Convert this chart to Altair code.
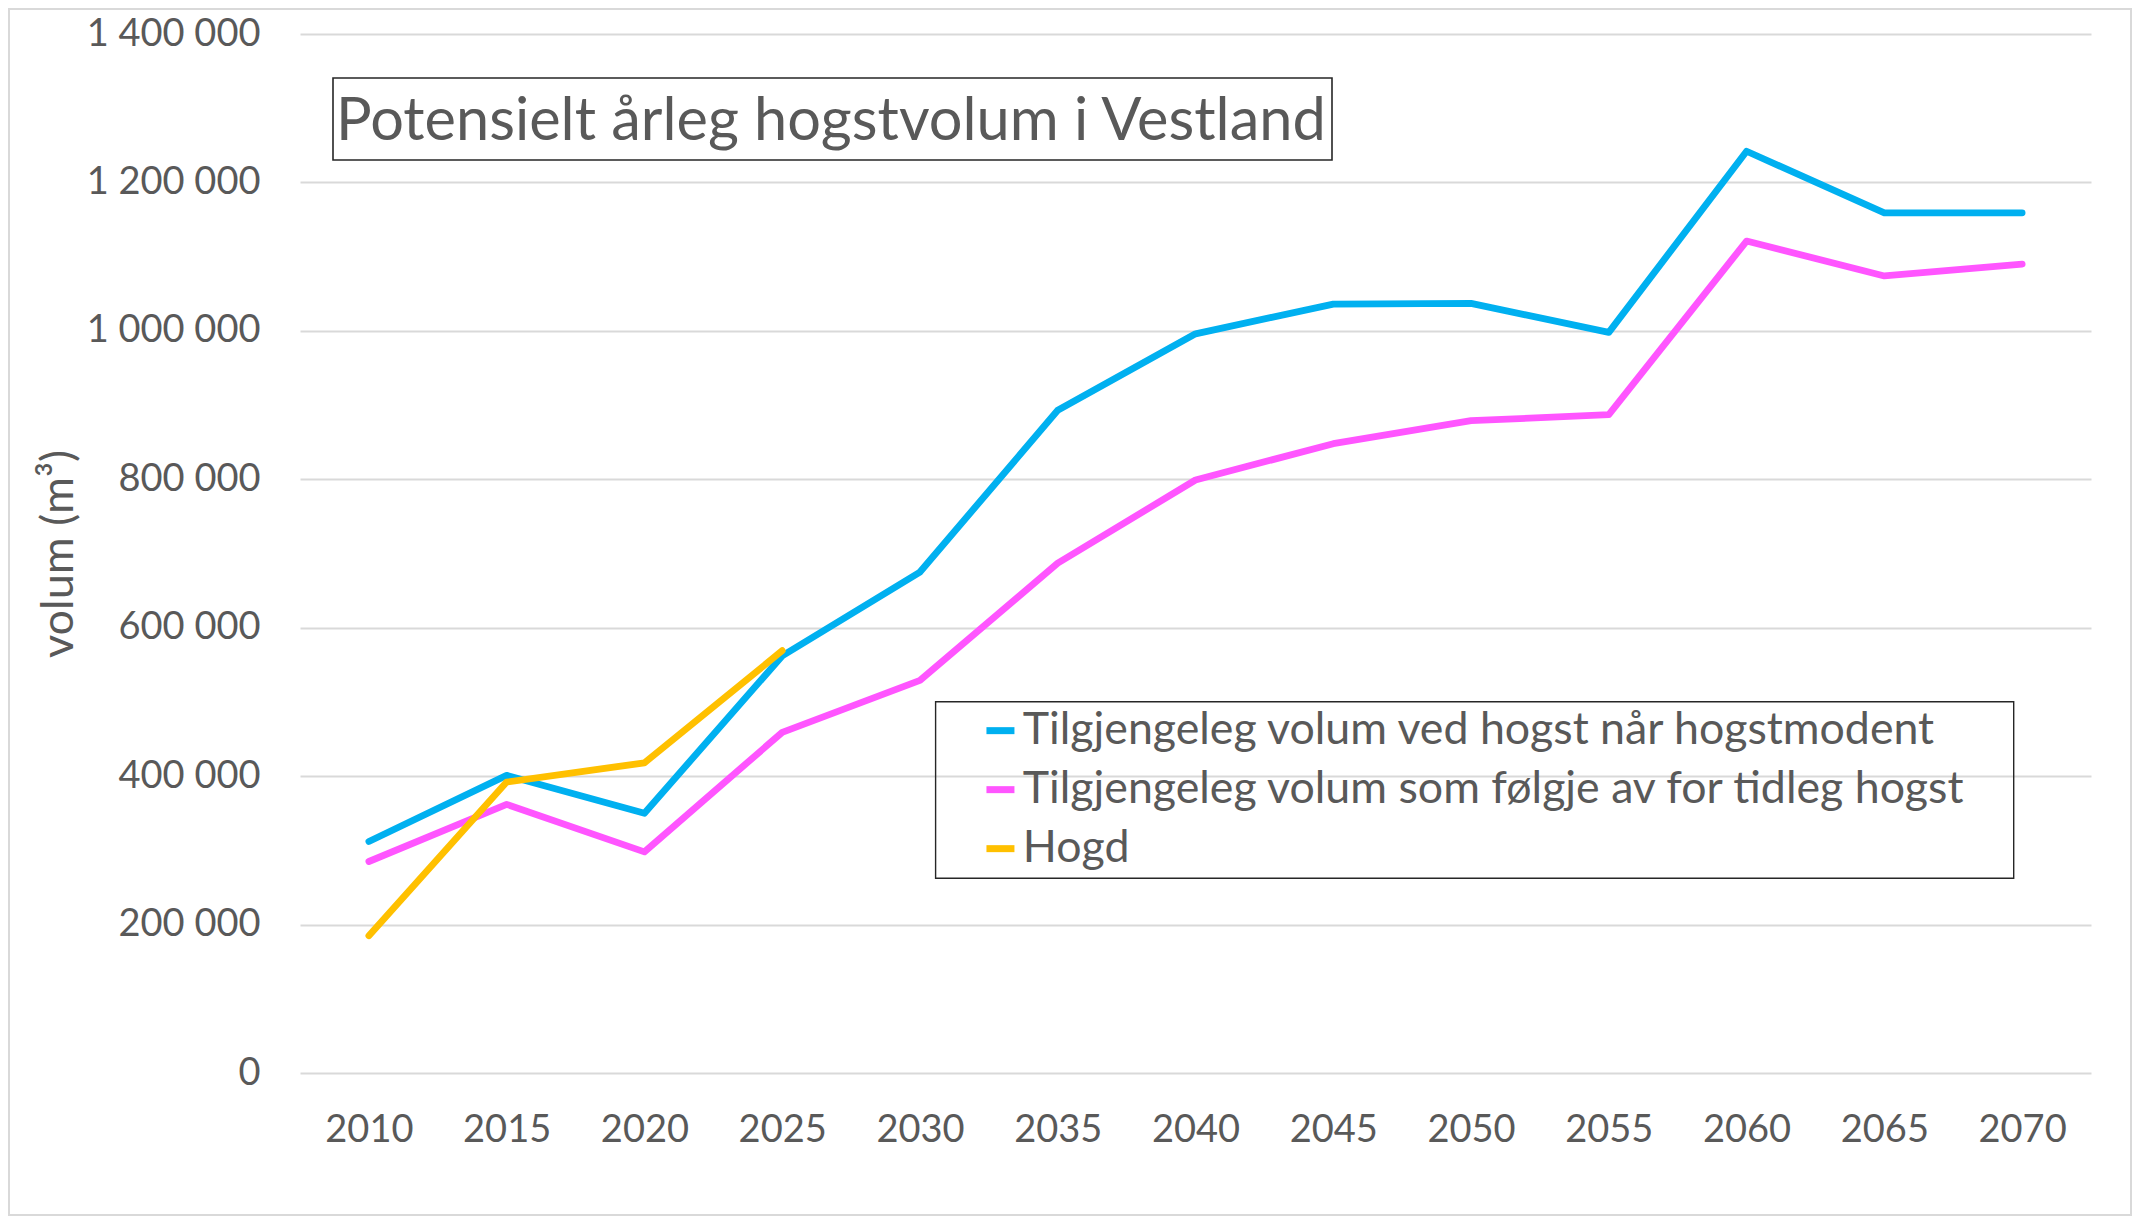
import altair as alt
import pandas as pd

years = [2010, 2015, 2020, 2025, 2030, 2035, 2040, 2045, 2050, 2055, 2060, 2065, 2070]
modent = [312000, 401000, 350000, 562000, 675000, 893000, 996000, 1036000, 1037000, 998000, 1242000, 1159000, 1159000]
tidleg = [285000, 362000, 298000, 459000, 529000, 687000, 799000, 848000, 879000, 887000, 1121000, 1074000, 1090000]
hogd_years = [2010, 2015, 2020, 2025]
hogd = [185000, 392000, 418000, 569000]

series_names = [
    "Tilgjengeleg volum ved hogst når hogstmodent",
    "Tilgjengeleg volum som følgje av for tidleg hogst",
    "Hogd",
]
series_colors = ["#00B0F0", "#FF55FF", "#FFC000"]
title_text = "Potensielt årleg hogstvolum i Vestland"
y_title = "volum (m³)"
y_ticks = [0, 200000, 400000, 600000, 800000, 1000000, 1200000, 1400000]

rows = []
for y, v in zip(years, modent):
    rows.append({"year": str(y), "value": v, "serie": series_names[0]})
for y, v in zip(years, tidleg):
    rows.append({"year": str(y), "value": v, "serie": series_names[1]})
for y, v in zip(hogd_years, hogd):
    rows.append({"year": str(y), "value": v, "serie": series_names[2]})
df = pd.DataFrame(rows)

W, H = 1791, 1039
FONT = "Lato"
GREY = "#595959"

lines = alt.Chart(df).mark_line(strokeWidth=6.8, strokeCap="round", strokeJoin="round").encode(
    x=alt.X("year:O", sort=[str(y) for y in years],
            axis=alt.Axis(title=None, labelAngle=0, ticks=False, domain=False, grid=False,
                          labelPadding=38, labelFontSize=38, labelFont=FONT, labelColor=GREY)),
    y=alt.Y("value:Q", scale=alt.Scale(domain=[0, 1400000], nice=False),
            axis=alt.Axis(values=y_ticks, title=y_title, ticks=False, domain=False,
                          grid=True, gridColor="#D9D9D9", gridWidth=1.8,
                          labelPadding=40, labelFontSize=38, labelFont=FONT, labelColor=GREY,
                          labelExpr="replace(replace(format(datum.value, ','), ',', ' '), ',', ' ')",
                          titleFont=FONT, titleFontSize=45, titleColor=GREY, titleFontWeight="normal",
                          titleAngle=270, titleX=-228, titleY=H / 2, titleAlign="center",
                          titleBaseline="alphabetic")),
    color=alt.Color("serie:N",
                    scale=alt.Scale(domain=series_names, range=series_colors),
                    legend=alt.Legend(title=None, orient="none", legendX=635.6, legendY=664.8,
                                      symbolType="stroke", symbolStrokeWidth=7, symbolSize=784,
                                      labelFont=FONT, labelFontSize=44.7, labelColor=GREY, labelLimit=0,
                                      padding=9.5, rowPadding=13, symbolOffset=33, labelOffset=0)),
)

one = pd.DataFrame({"t": [title_text]})
title_box = alt.Chart(one).mark_rect(fill="white", fillOpacity=0, stroke="#262626", strokeWidth=1.6).encode(
    x=alt.value(33), x2=alt.value(1032), y=alt.value(44), y2=alt.value(126)
)
title_txt = alt.Chart(one).mark_text(align="left", baseline="alphabetic", font=FONT, fontSize=59.5, color=GREY).encode(
    x=alt.value(36), y=alt.value(106), text="t:N"
)
legend_box = alt.Chart(one).mark_rect(fill="white", fillOpacity=0, stroke="#262626", strokeWidth=1.4).encode(
    x=alt.value(635.6), x2=alt.value(1713.7), y=alt.value(667.7), y2=alt.value(844.3)
)
border = alt.Chart(one).mark_rect(fill="white", fillOpacity=0, stroke="#D9D9D9", strokeWidth=2).encode(
    x=alt.value(-291), x2=alt.value(W + 40), y=alt.value(-25), y2=alt.value(H + 142)
)

chart = alt.layer(border, lines, legend_box, title_box, title_txt).properties(
    width=W, height=H,
    autosize=alt.AutoSizeParams(type="none"),
    padding={"left": 292, "top": 26, "right": 41, "bottom": 144},
).configure_view(stroke="transparent")

chart.save("out.html", embed_options={"renderer": "svg", "actions": False})
